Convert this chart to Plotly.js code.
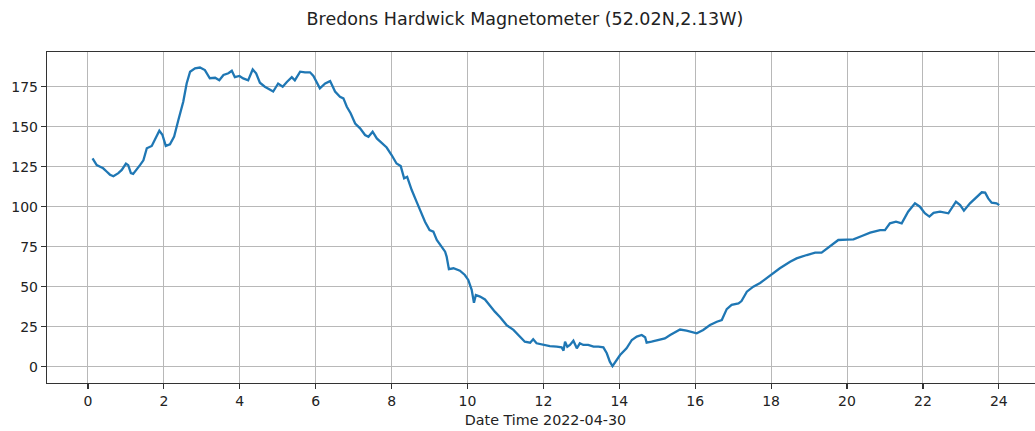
<!DOCTYPE html>
<html>
<head>
<meta charset="utf-8">
<script src="https://cdn.plot.ly/plotly-3.0.1.min.js"></script>
<style>
html,body{margin:0;padding:0;overflow:hidden;background:#fff;}
#chart{width:1046px;height:431px;}
</style>
</head>
<body>
<div id="chart"></div>
<script>
const hours = [0.12,0.23,0.32,0.40,0.49,0.58,0.67,0.80,0.89,1.00,1.06,1.13,1.19,1.28,1.37,1.46,1.55,1.68,1.77,1.88,1.96,2.05,2.16,2.27,2.38,2.51,2.60,2.69,2.82,2.95,3.08,3.21,3.35,3.46,3.57,3.70,3.79,3.87,3.99,4.09,4.22,4.34,4.43,4.53,4.66,4.80,4.88,5.01,5.13,5.24,5.37,5.45,5.59,5.72,5.85,5.94,6.03,6.11,6.25,6.38,6.51,6.64,6.73,6.82,6.92,7.04,7.17,7.30,7.39,7.50,7.61,7.74,7.87,8.00,8.13,8.24,8.33,8.41,8.53,8.66,8.79,8.88,9.00,9.10,9.19,9.28,9.41,9.45,9.51,9.63,9.80,9.93,10.02,10.11,10.17,10.22,10.33,10.46,10.59,10.72,10.86,11.03,11.21,11.38,11.51,11.65,11.73,11.82,12.00,12.17,12.35,12.48,12.53,12.57,12.63,12.70,12.79,12.88,12.96,13.05,13.18,13.32,13.45,13.58,13.67,13.75,13.82,13.89,14.02,14.19,14.33,14.46,14.59,14.68,14.72,14.85,15.02,15.20,15.34,15.47,15.60,15.77,15.86,16.04,16.21,16.39,16.57,16.70,16.83,16.96,17.14,17.22,17.36,17.53,17.71,17.93,18.23,18.50,18.67,18.94,19.16,19.33,19.55,19.77,20.00,20.17,20.39,20.61,20.87,21.00,21.13,21.29,21.44,21.61,21.79,21.92,22.05,22.17,22.28,22.45,22.67,22.76,22.87,22.98,23.08,23.24,23.37,23.55,23.64,23.72,23.81,23.94,24.01];
const field = [130.2,126,125,124,122,120,119,121,123,127,126,121,120.5,123,126,129,136.5,138,142,147.5,145,138,139,143.8,154,165.6,177,184.4,186.5,187,185.4,180.3,180.6,179,182.3,183.4,185,181,181.7,180.2,179,185.8,183.4,177.5,175,173.4,172,177,175,178,181,179,184.4,184,184,181.7,178,174,177,178.5,172,168.7,167.7,162.5,158.4,152,149,144.8,143.7,146.9,142.7,139.6,137,132.3,127,125.4,117.7,118.7,110.4,103,95.9,90.6,85.4,84.4,79.2,76,71.9,68.8,61,61.5,60,57.3,54.2,48,40,44.8,43.8,42,38,34.4,30.9,26,23,18.8,15.6,15,17.1,14.6,13.6,12.9,12.5,12.1,10,15.6,12.5,13.6,16.2,11.5,14.6,13.6,13.6,12.5,12.5,12.1,8.4,3.1,0.4,3.1,7.3,11.5,16.7,18.8,19.8,18.4,15,15.6,16.7,17.7,19.8,21.3,23.2,22.5,21.9,20.9,22.9,26,28.1,29.2,36,38.6,39.6,41,46.9,50,52.3,56.2,61.5,65.6,67.7,69.8,71.3,71.3,75,79.2,79.4,79.6,81.7,83.8,85.4,85.4,89.6,90.6,89.6,96.9,102.1,100,95.9,93.8,96.2,96.9,95.9,99,103.1,101,97.5,102.1,105.2,109,108.8,105.2,102.5,102.1,101];
const xTicks = [0,2,4,6,8,10,12,14,16,18,20,22,24];
const yTicks = [0,25,50,75,100,125,150,175];
const titleText = 'Bredons Hardwick Magnetometer (52.02N,2.13W)';
const xTitle = 'Date Time 2022-04-30';

const font = 'DejaVu Sans, sans-serif';
Plotly.newPlot('chart', [{
  x: hours, y: field, type: 'scatter', mode: 'lines',
  line: {color: '#1f77b4', width: 2.3}
}], {
  width: 1046, height: 431,
  paper_bgcolor: '#fff', plot_bgcolor: '#fff',
  margin: {l: 47, r: 2, t: 52, b: 48},
  showlegend: false,
  title: {text: titleText, font: {family: font, size: 17.5, color: '#222'},
          x: 525/1046, xref: 'container', xanchor: 'center', y: 1 - 19/431, yref: 'container', yanchor: 'middle'},
  xaxis: {
    range: [-1.08, 25.19], tickvals: xTicks, ticktext: xTicks.map(String),
    showgrid: true, gridcolor: '#b8b8b8', gridwidth: 1, zeroline: false,
    showline: true, mirror: true, linecolor: '#333', linewidth: 1.2,
    ticks: 'outside', ticklen: 5, tickwidth: 1.2, tickcolor: '#333',
    tickfont: {family: font, size: 14, color: '#222'},
    title: {text: xTitle, font: {family: font, size: 14.3, color: '#222'}, standoff: 7}
  },
  yaxis: {
    range: [-10.2, 196.7], tickvals: yTicks, ticktext: yTicks.map(String),
    showgrid: true, gridcolor: '#b8b8b8', gridwidth: 1, zeroline: false,
    showline: true, mirror: true, linecolor: '#333', linewidth: 1.2,
    ticks: 'outside', ticklen: 5, tickwidth: 1.2, tickcolor: '#333',
    tickfont: {family: font, size: 14, color: '#222'}
  }
}, {displayModeBar: false, staticPlot: true});
</script>
</body>
</html>
